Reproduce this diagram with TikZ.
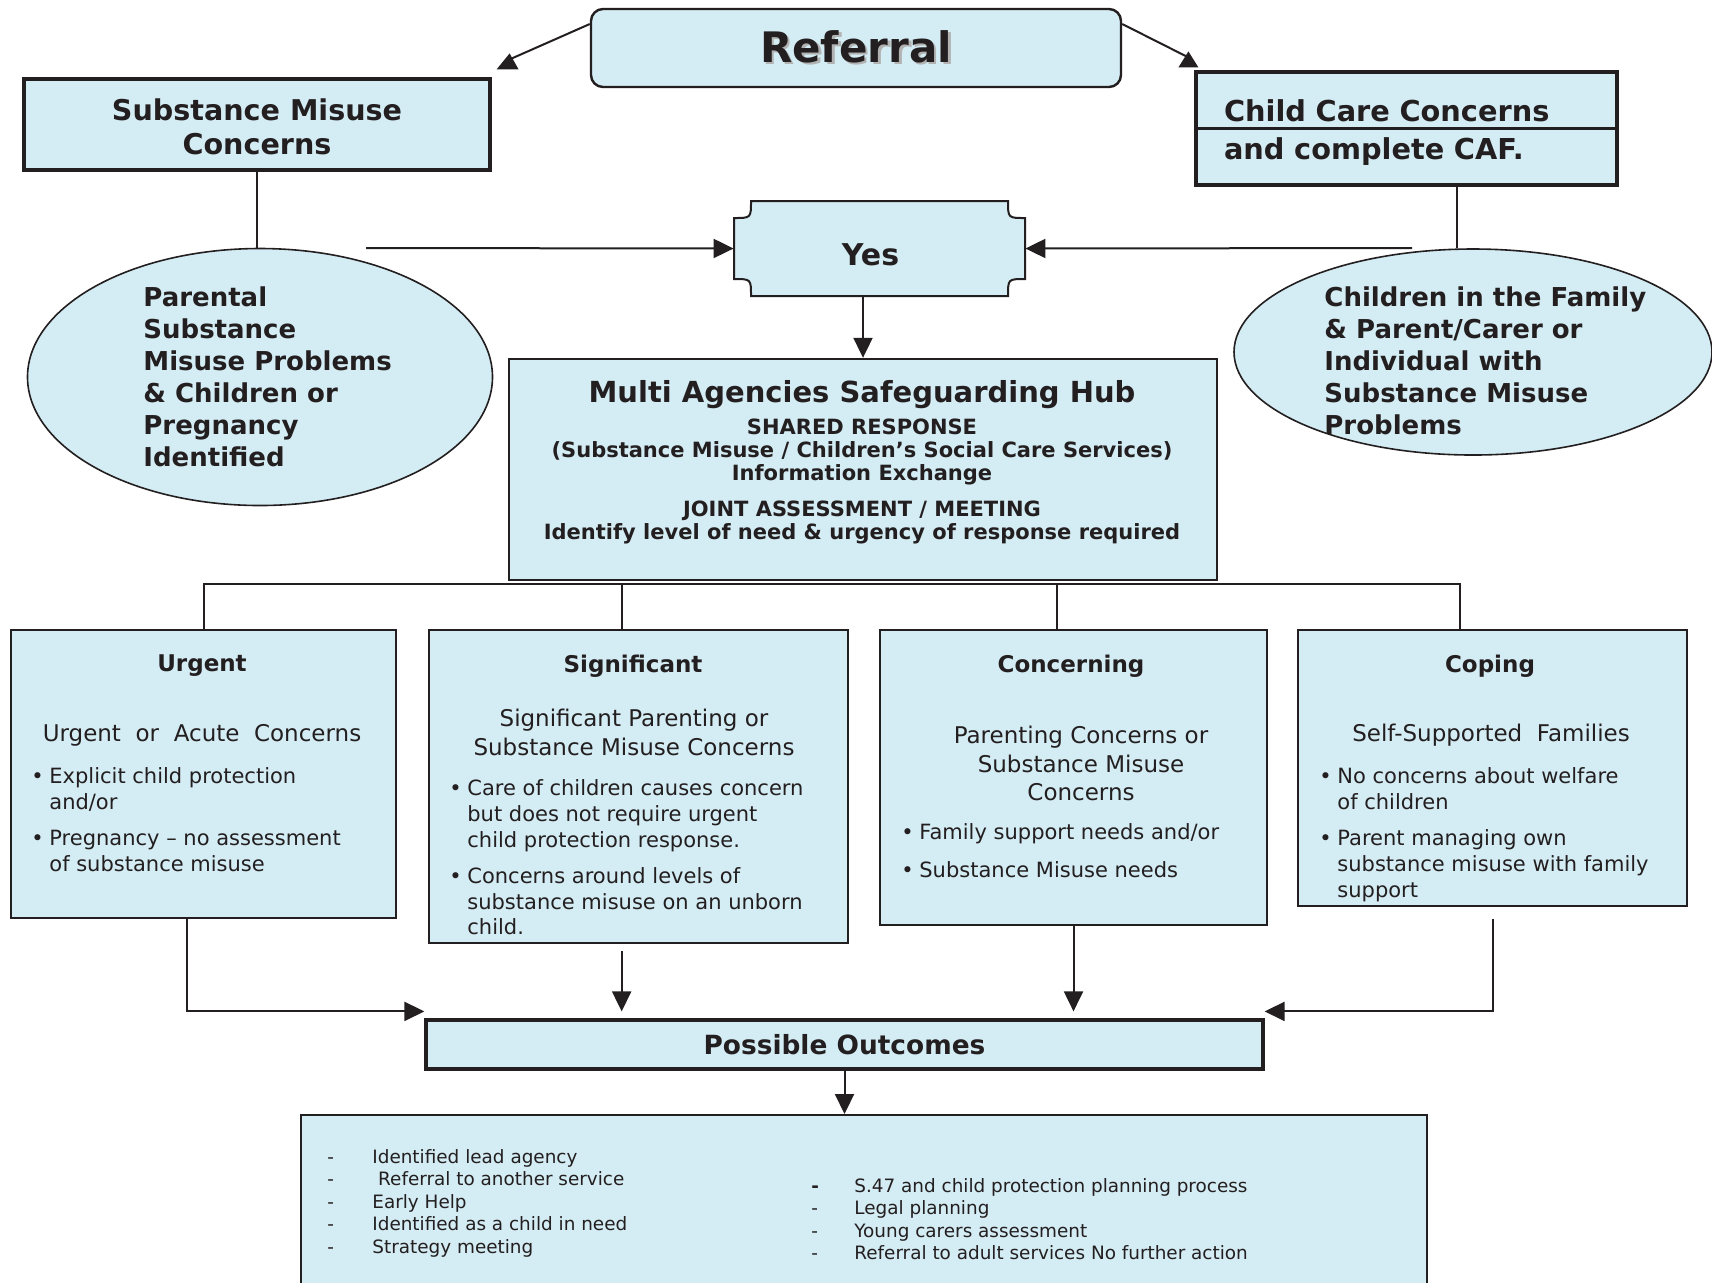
\documentclass[tikz,border=0pt]{standalone}
\usepackage{fontspec}
\setmainfont{DejaVu Sans}
\usetikzlibrary{arrows.meta,shapes.geometric,calc}

\definecolor{boxblue}{RGB}{212,236,243}
\definecolor{ink}{RGB}{35,31,32}

\newcommand{\shadowtext}[1]{\makebox[0pt][l]{\hspace{1.3pt}\raisebox{-1.3pt}{\textcolor{black!30}{#1}}}#1}
\newcommand{\bul}{\makebox[9pt][l]{\textbullet}}
\newcommand{\bulgap}{\hspace*{9pt}}
\newcommand{\dsh}{\makebox[22.5pt][l]{-}}

\begin{document}
\begin{tikzpicture}[x=0.5pt, y=-0.5pt, color=ink,
  conn/.style={draw=ink, line width=1pt},
  arr/.style={conn, -{Triangle[length=10pt,width=9.5pt]}},
  box/.style={draw=ink, fill=boxblue, line width=1pt, inner sep=0pt},
  thickbox/.style={box, line width=1.6pt},
  blob/.style={box, ellipse, line width=0.8pt},
  head/.style={font=\bfseries\fontsize{11.5}{14}\selectfont},
  sub/.style={font=\fontsize{11.5}{14.3}\selectfont, align=center, inner sep=0pt},
  txt/.style={font=\fontsize{10.5}{12.8}\selectfont, align=left, inner sep=0pt},
  list/.style={font=\fontsize{9.2}{11.25}\selectfont, align=left, inner sep=0pt},
  bold/.style={font=\bfseries\fontsize{13}{16}\selectfont, align=left, inner sep=0pt}]
\useasboundingbox (0,0) rectangle (1712,1282);
\clip (0,0) rectangle (1712,1282);

% top row
\node[box, line width=1.2pt, rounded corners=6pt, minimum width=265pt, minimum height=39pt,
      font=\bfseries\fontsize{21}{25}\selectfont] (ref) at (856,48) {\shadowtext{Referral}};
\node[thickbox, minimum width=233pt, minimum height=45.5pt, align=center,
      font=\bfseries\fontsize{14.3}{17}\selectfont] (smc) at (257,124.5) {\rule{0pt}{13pt}Substance Misuse\\Concerns};
\node[thickbox, inner xsep=14pt, text width=182.5pt, minimum height=56.5pt, align=left,
      font=\bfseries\fontsize{14.4}{19}\selectfont] (ccc) at (1406.5,128.5) {\rule{0pt}{14.5pt}Child Care Concerns\\and complete CAF.};
\draw[line width=1.6pt] (ccc.west) -- (ccc.east);

\coordinate (ltip) at ([xshift=9pt,yshift=12pt]smc.north east);
\coordinate (rtip) at ([xshift=-3pt,yshift=9.5pt]ccc.north west);
\draw[conn] ([yshift=12pt]ref.west) -- ([yshift=-3pt]ltip);
\fill (ltip) -- ++(-13,16) -- ++(22,0) -- cycle;
\draw[conn] ([yshift=12pt]ref.east) -- ([yshift=-3pt]rtip);
\fill (rtip) -- ++(-10,16) -- ++(20,0) -- cycle;

% ellipses
\node[blob, minimum width=232.5pt, minimum height=128.5pt] (pell) at (260,377) {};
\node[bold, anchor=west] (pelltext) at (143,376.5) {Parental\\Substance\\Misuse Problems\\\& Children or\\Pregnancy\\Identified};
\node[blob, minimum width=239pt, minimum height=103pt] (cell) at (1473,352) {};
\node[bold, anchor=west] (celltext) at (1324,361) {Children in the Family\\\& Parent/Carer or\\Individual with\\Substance Misuse\\Problems};

\draw[conn] (smc.south) -- (smc.south |- pell.north);
\coordinate (c1) at ($(ccc.south west)!0.62!(ccc.south east)$);
\draw[conn] (c1) -- (c1 |- cell.north);

% yes
\filldraw[fill=boxblue, line width=1pt] (751,201) -- (1008,201) .. controls (1008,218) .. (1025,218)
  -- (1025,279) .. controls (1008,279) .. (1008,296) -- (751,296) .. controls (751,279) .. (734,279)
  -- (734,218) .. controls (751,218) .. (751,201) -- cycle;
\node[minimum width=145.5pt, minimum height=47.5pt, inner sep=0pt, text height=17pt, text depth=0pt,
      font=\bfseries\fontsize{15}{18}\selectfont] (yes) at (879.5,248.5) {Yes\hspace*{9pt}};
\coordinate (lfree) at (366,248);
\coordinate (rfree) at (1412,248);
\draw[arr] (lfree) -- (yes.west);
\draw[arr] (rfree) -- (yes.east);

% hub
\node[box, line width=1.2pt, minimum width=354pt, minimum height=110.5pt] (mash) at (863,469.5) {};
\node[font=\bfseries\fontsize{14.5}{17}\selectfont, inner sep=0pt] (mashtitle) at (862,394.5) {Multi Agencies Safeguarding Hub};
\node[font=\bfseries\fontsize{10.5}{11.5}\selectfont, align=center, inner sep=0pt] (mashbody) at (862,481)
  {SHARED RESPONSE\\(Substance Misuse / Children's Social Care Services)\\Information Exchange\\[6.5pt]
   JOINT ASSESSMENT / MEETING\\Identify level of need \& urgency of response required};
\draw[arr] (yes.south -| mash.north) -- (mash.north);

% levels
\node[box, minimum width=192.5pt, minimum height=144pt] (urg) at (203.5,774) {};
\node[box, minimum width=209.5pt, minimum height=156.5pt] (sig) at (638.5,786.5) {};
\node[box, minimum width=193.5pt, minimum height=147.5pt] (con) at (1073.5,777.5) {};
\node[box, minimum width=194.5pt, minimum height=138pt] (cop) at (1492.5,768) {};

\node[head] (urghead) at (202,666) {Urgent};
\node[sub] (urgsub) at (202,735) {Urgent\ \ or\ \ Acute\ \ Concerns};
\node[txt, anchor=west] (urgtxt) at (31,819.5) {\bul Explicit child protection\\\bulgap and/or\\[5.5pt]
  \bul Pregnancy -- no assessment\\\bulgap of substance misuse};

\node[head] (sighead) at (633,666) {Significant};
\node[sub] (sigsub) at (634,732.5) {Significant Parenting or\\Substance Misuse Concerns};
\node[txt, anchor=west] (sigtxt) at (449,857.5) {\bul Care of children causes concern\\\bulgap but does not require urgent\\\bulgap child protection response.\\[5.5pt]
  \bul Concerns around levels of\\\bulgap substance misuse on an unborn\\\bulgap child.};

\node[head] (conhead) at (1071,666) {Concerning};
\node[sub] (consub) at (1081,763.5) {Parenting Concerns or\\Substance Misuse\\Concerns};
\node[txt, anchor=west] (contxt) at (901,850.5) {\bul Family support needs and/or\\[6.5pt]\bul Substance Misuse needs};

\node[head] (cophead) at (1490,666) {Coping};
\node[sub] (copsub) at (1491,735) {Self-Supported\ \ Families};
\node[txt, anchor=west] (coptxt) at (1319,834.5) {\bul No concerns about welfare\\\bulgap of children\\[5.5pt]
  \bul Parent managing own\\\bulgap substance misuse with family\\\bulgap support};

% bus from hub
\coordinate (bus) at ([yshift=-1.5pt]mash.south);
\coordinate (d1) at (urg.north);
\coordinate (d2) at ($(sig.north west)!0.46!(sig.north east)$);
\coordinate (d3) at ($(con.north west)!0.457!(con.north east)$);
\coordinate (d4) at ($(cop.north west)!0.417!(cop.north east)$);
\draw[conn] (d1) -- (d1 |- bus) -- (d4 |- bus) -- (d4);
\draw[conn] (d2) -- (d2 |- bus);
\draw[conn] (d3) -- (d3 |- bus);

% outcomes
\node[thickbox, minimum width=418.5pt, minimum height=24.5pt,
      font=\bfseries\fontsize{13.2}{16}\selectfont] (po) at (844.5,1044.5) {Possible Outcomes};
\coordinate (poin) at ([yshift=3.5pt]po.north);
\coordinate (u1) at ($(urg.south west)!0.457!(urg.south east)$);
\draw[arr] (u1) |- (po.west |- poin);
\draw[arr, shorten <=3.5pt] (sig.south -| d2) -- (d2 |- poin);
\draw[arr] (con.south) -- (con.south |- poin);
\draw[arr, shorten <=6pt] (cop.south) |- (po.east |- poin);

\node[box, minimum width=563pt, minimum height=92.5pt] (out) at (864,1207.5) {};
\draw[arr] (po.south) -- (po.south |- out.north);
\node[list, anchor=west] (outl) at (327,1203) {\dsh Identified lead agency\\\dsh\ Referral to another service\\
  \dsh Early Help\\\dsh Identified as a child in need\\\dsh Strategy meeting};
\node[list, anchor=west] (outr) at (811,1219) {\makebox[21.5pt][l]{\bfseries -}S.47 and child protection planning process\\
  \makebox[21.5pt][l]{-}Legal planning\\\makebox[21.5pt][l]{-}Young carers assessment\\
  \makebox[21.5pt][l]{-}Referral to adult services No further action};
\end{tikzpicture}
\end{document}
